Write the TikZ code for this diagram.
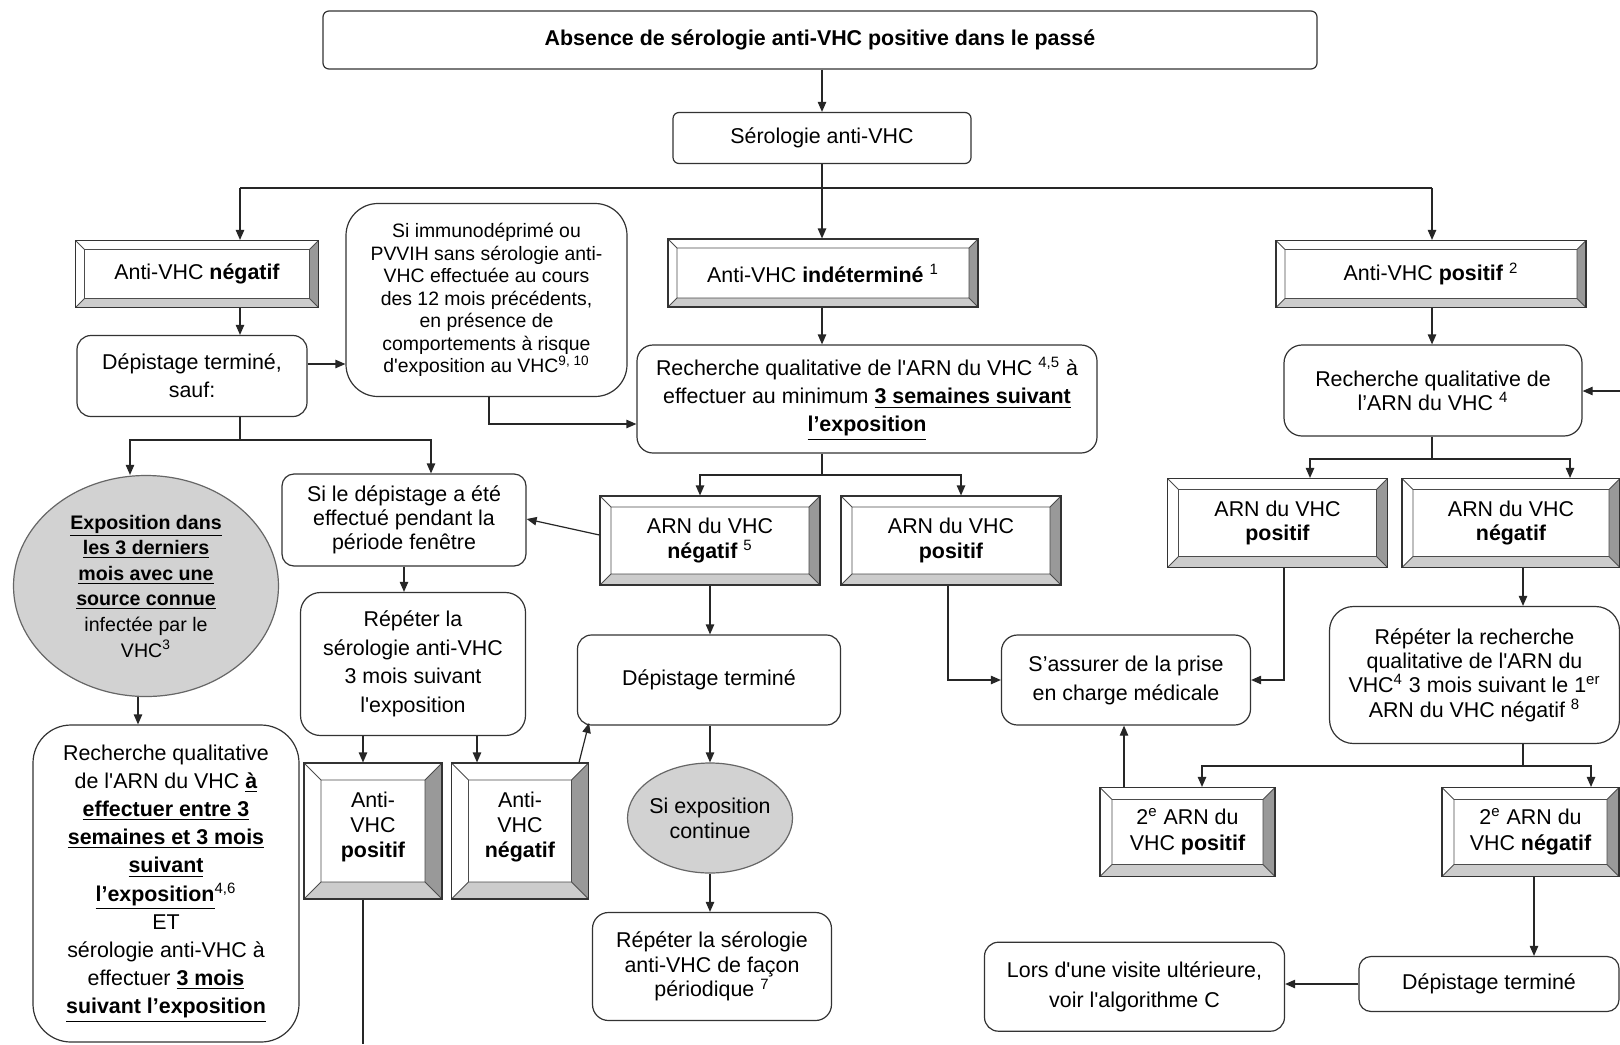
\documentclass[tikz,border=0pt]{standalone}
\usepackage{fontspec}
\setmainfont{Liberation Sans}[Ligatures=TeXOff]
\usetikzlibrary{positioning, arrows.meta, shapes.geometric}

\tikzset{
  every node/.style={font=\fontsize{10.7}{14}\selectfont},
  boxsize/.style 2 args={minimum width=#1*0.5pt, minimum height=#2*0.5pt},
  lsep/.style={font=\fontsize{10.7}{#1}\selectfont},
  rbox/.style={draw=black!80, fill=white, line width=0.6pt, rounded corners=#1, align=center, inner sep=0pt},
  rbox/.default=7pt,
  bevelbox/.style={draw=black!80, fill=white, line width=0.55pt, align=center, inner sep=0pt,
    path picture={
      \coordinate (bnw) at (path picture bounding box.north west);
      \coordinate (bne) at (path picture bounding box.north east);
      \coordinate (bsw) at (path picture bounding box.south west);
      \coordinate (bse) at (path picture bounding box.south east);
      \fill[gray!80] (bne) -- (bse) -- ([shift={(-#1,#1)}]bse) -- ([shift={(-#1,-#1)}]bne) -- cycle;
      \fill[gray!40] (bsw) -- (bse) -- ([shift={(-#1,#1)}]bse) -- ([shift={(#1,#1)}]bsw) -- cycle;
      \draw[black!70, line width=0.4pt] ([shift={(#1,-#1)}]bnw) rectangle ([shift={(-#1,#1)}]bse)
        (bnw) -- ([shift={(#1,-#1)}]bnw) (bne) -- ([shift={(-#1,-#1)}]bne)
        (bsw) -- ([shift={(#1,#1)}]bsw) (bse) -- ([shift={(-#1,#1)}]bse);
    }},
  bevelbox/.default=5.5pt,
  oval/.style={ellipse, draw=black!60, fill=gray!35, line width=0.6pt, align=center, inner sep=-4pt},
  link/.style={draw=black!85, line width=0.6pt},
  arr/.style={-{Triangle[length=5pt,width=4.2pt]}},
}

\begin{document}
\begin{tikzpicture}[x=0.5pt, y=-0.5pt]
  \useasboundingbox[fill=white] (0,0) rectangle (1620,1044);

  % top of the algorithm
  \node[rbox=3pt, boxsize={994}{58}] (top) at (820,40) {\textbf{Absence de sérologie anti-VHC positive dans le passé}};
  \node[rbox=3pt, boxsize={298}{51}] (sero) at (822,138) {Sérologie anti-VHC};

  % three results
  \node[bevelbox=4.5pt, boxsize={243}{67}] (neg) at (197,274) {Anti-VHC \textbf{négatif}};
  \node[bevelbox=4.5pt, boxsize={310}{68}] (ind) at (823,273) {Anti-VHC \textbf{indéterminé} \textsuperscript{1}};
  \node[bevelbox=4.5pt, boxsize={310}{67}] (pos) at (1431,274) {Anti-VHC \textbf{positif} \textsuperscript{2}};

  % left branch
  \node[rbox=7pt, boxsize={230}{81}, lsep=14] (depsauf) at (192,376) {Dépistage terminé,\\ sauf:};
  \node[rbox=16pt, boxsize={281}{193}, font=\fontsize{9.7}{11.25}\selectfont] (immuno) at (486.5,300)
    {Si immunodéprimé ou\\ PVVIH sans sérologie anti-\\ VHC effectuée au cours\\ des 12 mois précédents,\\ en présence de\\ comportements à risque\\ d'exposition au VHC\textsuperscript{9, 10}};
  \node[oval, boxsize={265}{221}, font=\fontsize{9.8}{12.8}\selectfont] (expo) at (146,586)
    {\underline{\textbf{Exposition dans}}\\ \underline{\textbf{les 3 derniers}}\\ \underline{\textbf{mois avec une}}\\ \underline{\textbf{source connue}}\\ infectée par le\\ VHC\textsuperscript{3}};
  \node[rbox=19pt, boxsize={266}{317}, lsep=14.1] (bigbox) at (166,883.5)
    {Recherche qualitative\\ de l'ARN du VHC \underline{\textbf{à}}\\ \underline{\textbf{effectuer entre 3}}\\ \underline{\textbf{semaines et 3 mois}}\\ \underline{\textbf{suivant}}\\ \underline{\textbf{l’exposition}}\textsuperscript{4,6}\\ ET\\ sérologie anti-VHC à\\ effectuer \underline{\textbf{3 mois}}\\ \underline{\textbf{suivant l’exposition}}};
  \node[rbox=6pt, boxsize={244}{92}, lsep=12.1] (sidep) at (404,520) {Si le dépistage a été\\ effectué pendant la\\ période fenêtre};
  \node[rbox=10pt, boxsize={225}{143}, lsep=14.3] (rep3m) at (413,664) {Répéter la\\ sérologie anti-VHC\\ 3 mois suivant\\ l'exposition};
  \node[bevelbox=8.5pt, boxsize={138}{136}, lsep=12.7] (avpos) at (373,831) {Anti-\\ VHC\\ \textbf{positif}\\[-6.5pt]};
  \node[bevelbox=8.5pt, boxsize={137}{136}, lsep=12.7] (avneg) at (520,831) {Anti-\\ VHC\\ \textbf{négatif}\\[-6.5pt]};

  % middle branch
  \node[rbox=8pt, boxsize={460}{108}, lsep=14] (rech) at (867,399)
    {Recherche qualitative de l'ARN du VHC \textsuperscript{4,5} à\\ effectuer au minimum \underline{\textbf{3 semaines suivant}}\\ \underline{\textbf{l’exposition}}};
  \node[bevelbox, boxsize={220}{89}, lsep=12.9] (arnneg) at (710,540.5) {ARN du VHC\\ \textbf{négatif} \textsuperscript{5}};
  \node[bevelbox, boxsize={220}{89}, lsep=12.9] (arnpos) at (951,540.5) {ARN du VHC\\ \textbf{positif}};
  \node[rbox=7pt, boxsize={263}{90}] (dep) at (709,680) {Dépistage terminé};
  \node[oval, boxsize={165}{110}, lsep=12.4] (cont) at (710,818) {Si exposition\\ continue};
  \node[rbox=8pt, boxsize={239}{108}, lsep=12.4] (per) at (712,966.5) {Répéter la sérologie\\ anti-VHC de façon\\ périodique \textsuperscript{7}};
  \node[rbox=8pt, boxsize={249}{90}, lsep=14.5] (prise) at (1126,680) {S’assurer de la prise\\ en charge médicale};

  % right branch
  \node[rbox=9pt, boxsize={298}{91}, lsep=11.9] (rechr) at (1433,390.5) {Recherche qualitative de\\ l’ARN du VHC \textsuperscript{4}};
  \node[bevelbox, boxsize={220}{89}, lsep=12.4] (arnpos2) at (1277.5,523) {ARN du VHC\\ \textbf{positif}};
  \node[bevelbox, boxsize={218}{89}, lsep=12.4] (arnneg2) at (1511,523) {ARN du VHC\\ \textbf{négatif}};
  \node[rbox=12pt, boxsize={290}{137}, lsep=12.2] (reprech) at (1474.5,675)
    {Répéter la recherche\\ qualitative de l'ARN du\\ VHC\textsuperscript{4} 3 mois suivant le 1\textsuperscript{er}\\ ARN du VHC négatif \textsuperscript{8}};
  \node[bevelbox=6pt, boxsize={175}{89}, lsep=12.9] (arn2pos) at (1187.5,832) {2\textsuperscript{e} ARN du\\ VHC \textbf{positif}};
  \node[bevelbox=6pt, boxsize={177}{89}, lsep=12.9] (arn2neg) at (1530.5,832) {2\textsuperscript{e} ARN du\\ VHC \textbf{négatif}};
  \node[rbox=6pt, boxsize={260}{55}] (depr) at (1489,984) {Dépistage terminé};
  \node[rbox=7pt, boxsize={300}{89}, lsep=15] (visite) at (1134.5,986.7) {Lors d'une visite ultérieure,\\ voir l'algorithme C};

  % forks and free ends
  \coordinate (busL) at (240,188);
  \coordinate (busR) at (1432,188);
  \coordinate (forkL) at (240,440);
  \coordinate (forkM) at (822,475);
  \coordinate (forkR) at (1432,459);
  \coordinate (forkR2) at (1523,766);
  \coordinate (inR) at (1620,391);
  \coordinate (outL) at (363,1044);

  % connectors
  \draw[link, arr] (top.south -| sero.north) -- (sero.north);
  \draw[link, arr] (sero.south) -- (ind.north -| sero.south);
  \draw[link, line width=1pt] (busL) -- (busR);
  \draw[link, arr] (busL) -- (neg.north -| busL);
  \draw[link, arr] (busR) -- (pos.north -| busR);

  \draw[link, arr] (neg.south -| busL) -- (depsauf.north -| busL);
  \draw[link, arr] (depsauf.east |- 0,364) -- (immuno.west |- 0,364);
  \draw[link, arr] (489,0 |- immuno.south) |- (rech.west |- 0,424);
  \draw[link] (depsauf.south -| forkL) -- (forkL);
  \draw[link, arr] (forkL) -| (expo.north -| 130,0);
  \draw[link, arr] (forkL) -| (sidep.north -| 431,0);
  \draw[link, arr] (138,0 |- expo.south) -- (138,0 |- bigbox.north);
  \draw[link, arr] (404,0 |- sidep.south) -- (404,0 |- rep3m.north);
  \draw[link, arr] (363,0 |- rep3m.south) -- (363,0 |- avpos.north);
  \draw[link, arr] (477,0 |- rep3m.south) -- (477,0 |- avneg.north);
  \draw[link] (363,0 |- avpos.south) -- (outL);
  \draw[link, arr] (579,0 |- avneg.north) -- (589,723);

  \draw[link, arr] (ind.south -| sero.south) -- (rech.north -| sero.south);
  \draw[link] (rech.south -| forkM) -- (forkM);
  \draw[link, arr] (forkM) -| (arnneg.north -| 700,0);
  \draw[link, arr] (forkM) -| (arnpos.north -| 961,0);
  \draw[link, arr] (arnneg.west |- 0,535) -- (sidep.east |- 0,519);
  \draw[link, arr] (arnneg.south) -- (dep.north -| arnneg.south);
  \draw[link, arr] (dep.south -| cont.north) -- (cont.north);
  \draw[link, arr] (cont.south) -- (per.north -| cont.south);
  \draw[link, arr] (948,0 |- arnpos.south) |- (prise.west);

  \draw[link, arr] (pos.south -| busR) -- (rechr.north -| busR);
  \draw[link, arr] (inR) -- (rechr.east |- inR);
  \draw[link] (rechr.south -| forkR) -- (forkR);
  \draw[link, arr] (forkR) -| (arnpos2.north -| 1310,0);
  \draw[link, arr] (forkR) -| (arnneg2.north -| 1570,0);
  \draw[link, arr] (1284,0 |- arnpos2.south) |- (prise.east);
  \draw[link, arr] (1523,0 |- arnneg2.south) -- (1523,0 |- reprech.north);
  \draw[link] (1523,0 |- reprech.south) -- (forkR2);
  \draw[link, arr] (forkR2) -| (arn2pos.north -| 1202,0);
  \draw[link, arr] (forkR2) -| (arn2neg.north -| 1591,0);
  \draw[link, arr] (1124,0 |- arn2pos.north) -- (1124,0 |- prise.south);
  \draw[link, arr] (1534,0 |- arn2neg.south) -- (1534,0 |- depr.north);
  \draw[link, arr] (depr.west) -- (visite.east |- depr.west);
\end{tikzpicture}
\end{document}
